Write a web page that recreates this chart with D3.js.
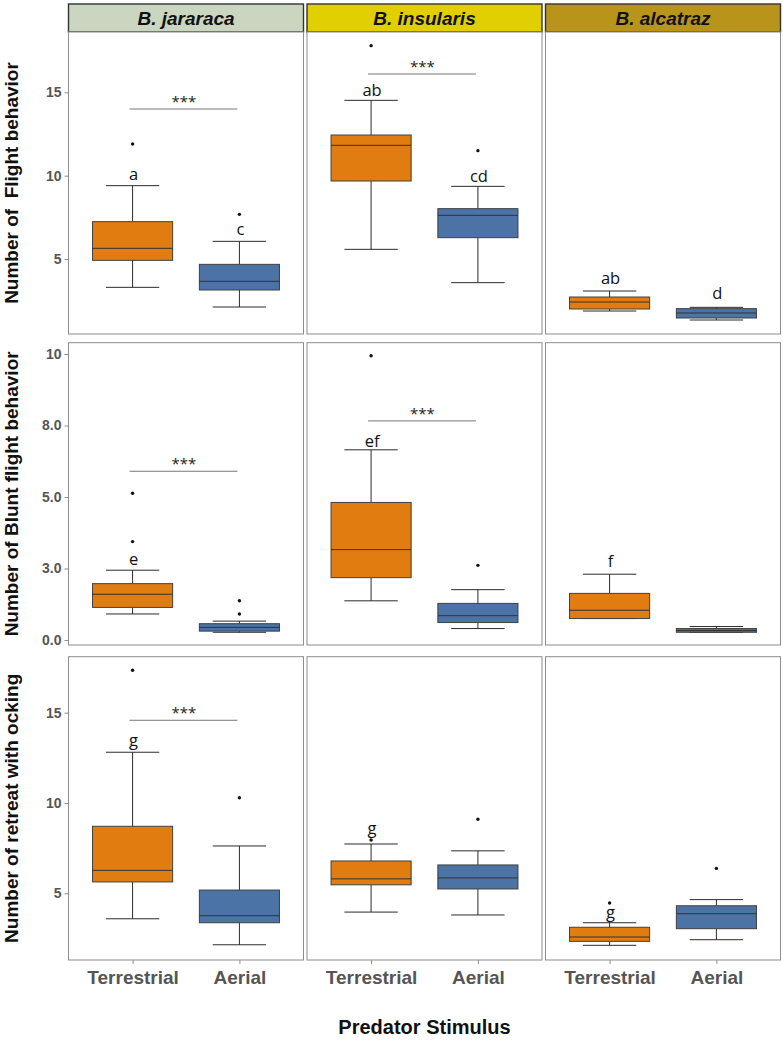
<!DOCTYPE html>
<html>
<head>
<meta charset="utf-8">
<script src="https://cdn.jsdelivr.net/npm/d3@7"></script>
<style>
  html, body { margin: 0; padding: 0; background: #fff; }
  svg { display: block; }
</style>
</head>
<body>
<script>
// ---------------- DATA ----------------
const species = ["B. jararaca", "B. insularis", "B. alcatraz"];
const stripColors = ["#cbd6c1", "#e2cf02", "#b8951a"];
const stimuli = ["Terrestrial", "Aerial"];
const stimulusColors = ["#e07c10", "#4b73a5"];
const behaviors = ["Number of  Flight behavior", "Number of Blunt flight behavior", "Number of retreat with ocking"];

// axis limits of each row
const flightDomain = [0.5, 18.62];
const bluntDomain = [-0.175, 10.395];
const retreatDomain = [1.307, 18.1];

// tick values and labels
const flightTicks = [5, 10, 15];
const flightTickLabels = ["5", "10", "15"];
const bluntTicks = [0, 2.5, 5, 7.5, 10];
const bluntTickLabels = ["0.0", "3.0", "5.0", "8.0", "10"];
const retreatTicks = [5, 10, 15];
const retreatTickLabels = ["5", "10", "15"];

// box stats per species, per stimulus: [lower whisker, Q1, median, Q3, upper whisker]
const flightStats = [
  [[3.3, 4.92, 5.64, 7.24, 9.4], [2.12, 3.14, 3.66, 4.68, 6.06]],
  [[5.58, 9.68, 11.82, 12.44, 14.52], [3.58, 6.28, 7.62, 8.02, 9.36]],
  [[1.88, 2.0, 2.42, 2.72, 3.08], [1.34, 1.46, 1.76, 2.02, 2.1]]
];
const flightOutliers = [[[11.9], [7.68]], [[17.8], [11.5]], [[], []]];

const bluntStats = [
  [[0.91, 1.14, 1.6, 1.97, 2.44], [0.27, 0.31, 0.44, 0.57, 0.66]],
  [[1.37, 2.18, 3.16, 4.81, 6.65], [0.4, 0.61, 0.85, 1.28, 1.76]],
  [[0.75, 0.75, 1.04, 1.63, 2.3], [0.27, 0.27, 0.33, 0.4, 0.47]]
];
const bluntOutliers = [[[3.44, 5.13], [0.91, 1.37]], [[9.94], [2.61]], [[], []]];

const retreatStats = [
  [[3.59, 5.63, 6.27, 8.71, 12.81], [2.15, 3.37, 3.76, 5.18, 7.62]],
  [[3.96, 5.47, 5.8, 6.79, 7.73], [3.8, 5.24, 5.85, 6.57, 7.35]],
  [[2.12, 2.34, 2.58, 3.12, 3.37], [2.43, 3.04, 3.87, 4.31, 4.65]]
];
const retreatOutliers = [[[17.35], [10.29]], [[7.95], [9.1]], [[4.46], [6.38]]];

// group letters and the value where they sit
const flightLetters = [["a", "c"], ["ab", "cd"], ["ab", "d"]];
const flightLetterY = [[9.74, 6.44], [14.78, 9.62], [3.5, 2.6]];
const bluntLetters = [["e", ""], ["ef", ""], ["f", ""]];
const bluntLetterY = [[2.62, null], [6.75, null], [2.55, null]];
const retreatLetters = [["g", ""], ["g", ""], ["g", ""]];
const retreatLetterY = [[13.16, null], [8.3, null], [3.63, null]];

// significance bracket level (null = none)
const flightSig = [14.0, 16.1, null];
const bluntSig = [5.9, 7.66, null];
const retreatSig = [14.58, null, null];

const xTitle = "Predator Stimulus";

// ---------------- LAYOUT ----------------
const W = 783, H = 1042;
const colX = [68.5, 307, 545.5];
const panelW = 235;
const rowTop = [32, 342.7, 656.7];
const rowBot = [334, 645, 960];
const stripTop = 4;

const rows = [
  {domain: flightDomain, ticks: flightTicks, tickLabels: flightTickLabels, stats: flightStats, outliers: flightOutliers, letters: flightLetters, letterY: flightLetterY, sig: flightSig},
  {domain: bluntDomain, ticks: bluntTicks, tickLabels: bluntTickLabels, stats: bluntStats, outliers: bluntOutliers, letters: bluntLetters, letterY: bluntLetterY, sig: bluntSig},
  {domain: retreatDomain, ticks: retreatTicks, tickLabels: retreatTickLabels, stats: retreatStats, outliers: retreatOutliers, letters: retreatLetters, letterY: retreatLetterY, sig: retreatSig}
];

const svg = d3.select("body").append("svg").attr("width", W).attr("height", H);
const FONT = "'Liberation Sans', Arial, sans-serif";
const LFONT = "'Open Sans', 'Noto Sans', sans-serif";

const x = d3.scalePoint().domain(stimuli).range([0, panelW]).padding(0.6);
const step = x.step();
const boxW = 0.75 * step, capW = 0.5 * step;

// strips
species.forEach((sp, c) => {
  const g = svg.append("g").attr("transform", `translate(${colX[c]},${stripTop})`);
  g.append("rect").attr("width", panelW).attr("height", rowTop[0] - stripTop)
    .attr("fill", stripColors[c]).attr("stroke", "#333").attr("stroke-width", 1.4);
  g.append("text").attr("x", panelW / 2).attr("y", (rowTop[0] - stripTop) / 2 + 7)
    .attr("text-anchor", "middle").attr("font-family", FONT).attr("font-size", 19)
    .attr("font-weight", "bold").attr("font-style", "italic").attr("fill", "#111").text(sp);
});

rows.forEach((row, r) => {
  const y = d3.scaleLinear().domain(row.domain).range([rowBot[r], rowTop[r]]);

  species.forEach((sp, c) => {
    const g = svg.append("g").attr("transform", `translate(${colX[c]},0)`);
    // panel border
    g.append("rect").attr("x", 0).attr("y", rowTop[r]).attr("width", panelW)
      .attr("height", rowBot[r] - rowTop[r]).attr("fill", "#fff").attr("stroke", "#8c8c8c").attr("stroke-width", 1);

    // significance bracket
    if (row.sig[c] != null) {
      const yy = y(row.sig[c]);
      g.append("line").attr("x1", x(stimuli[0]) - 3).attr("x2", x(stimuli[1]) - 2)
        .attr("y1", yy).attr("y2", yy).attr("stroke", "#777").attr("stroke-width", 1);
      g.append("text").attr("x", (x(stimuli[0]) + x(stimuli[1])) / 2 - 2).attr("y", yy - 2)
        .attr("text-anchor", "middle").attr("font-family", LFONT).attr("font-size", 15)
        .attr("fill", "#222").text("***");
    }

    stimuli.forEach((st, s) => {
      const [lw, q1, med, q3, uw] = row.stats[c][s];
      const cx = x(st);
      const bg = g.append("g");
      bg.append("line").attr("x1", cx).attr("x2", cx).attr("y1", y(q3)).attr("y2", y(uw)).attr("stroke", "#2b2b2b").attr("stroke-width", 1);
      bg.append("line").attr("x1", cx).attr("x2", cx).attr("y1", y(q1)).attr("y2", y(lw)).attr("stroke", "#2b2b2b").attr("stroke-width", 1);
      bg.append("line").attr("x1", cx - capW / 2).attr("x2", cx + capW / 2).attr("y1", y(uw)).attr("y2", y(uw)).attr("stroke", "#2b2b2b").attr("stroke-width", 1);
      bg.append("line").attr("x1", cx - capW / 2).attr("x2", cx + capW / 2).attr("y1", y(lw)).attr("y2", y(lw)).attr("stroke", "#2b2b2b").attr("stroke-width", 1);
      bg.append("rect").attr("x", cx - boxW / 2).attr("y", y(q3)).attr("width", boxW)
        .attr("height", Math.max(1, y(q1) - y(q3))).attr("fill", stimulusColors[s])
        .attr("stroke", "#404040").attr("stroke-width", 1);
      bg.append("line").attr("x1", cx - boxW / 2).attr("x2", cx + boxW / 2).attr("y1", y(med)).attr("y2", y(med)).attr("stroke", "#333").attr("stroke-width", 1);
      bg.selectAll("circle.o").data(row.outliers[c][s]).enter().append("circle")
        .attr("cx", cx).attr("cy", d => y(d)).attr("r", 1.7).attr("fill", "#111");
      const lt = row.letters[c][s];
      if (lt) {
        bg.append("text").attr("x", cx + 1).attr("y", y(row.letterY[c][s]))
          .attr("text-anchor", "middle").attr("font-family", LFONT).attr("font-size", 16.5)
          .attr("fill", "#111").text(lt);
      }
    });

    // y axis on first column
    if (c === 0) {
      const ax = g.append("g").call(d3.axisLeft(y).tickValues(row.ticks)
        .tickFormat((d, i) => row.tickLabels[i]).tickSize(4).tickPadding(3));
      ax.select(".domain").remove();
      ax.selectAll("line").attr("stroke", "#8c8c8c");
      ax.selectAll("text").attr("font-family", FONT).attr("font-size", 14)
        .attr("font-weight", "bold").attr("fill", "#555");
    }
    // x axis on bottom row
    if (r === rows.length - 1) {
      const ax = g.append("g").attr("transform", `translate(0,${rowBot[r]})`)
        .call(d3.axisBottom(x).tickSize(4).tickPadding(7));
      ax.select(".domain").remove();
      ax.selectAll("line").attr("stroke", "#8c8c8c");
      ax.selectAll("text").attr("font-family", FONT).attr("font-size", 19)
        .attr("font-weight", "bold").attr("fill", "#555");
    }
  });

  // row title
  svg.append("text")
    .attr("transform", `translate(18,${(rowTop[r] + rowBot[r]) / 2}) rotate(-90)`)
    .attr("text-anchor", "middle").attr("font-family", FONT).attr("font-size", 19)
    .attr("font-weight", "bold").attr("fill", "#111").attr("xml:space", "preserve")
    .style("white-space", "pre").text(behaviors[r]);
});

svg.append("text").attr("x", (colX[0] + colX[2] + panelW) / 2).attr("y", 1034)
  .attr("text-anchor", "middle").attr("font-family", FONT).attr("font-size", 20)
  .attr("font-weight", "bold").attr("fill", "#111").text(xTitle);
</script>
</body>
</html>
